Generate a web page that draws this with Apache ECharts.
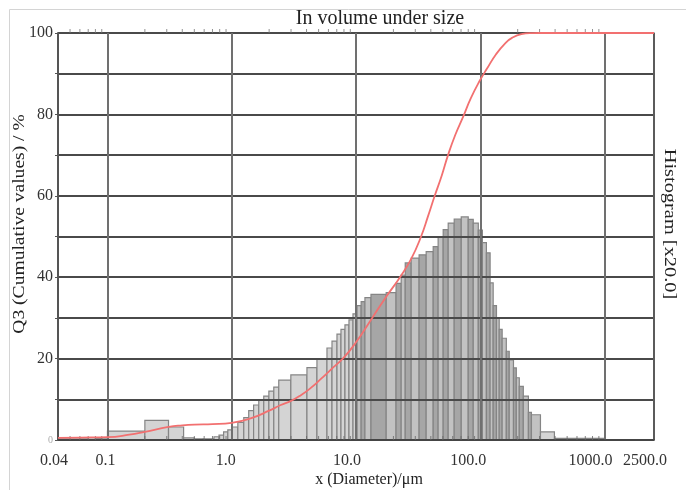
<!DOCTYPE html>
<html><head><meta charset="utf-8">
<script src="https://cdn.jsdelivr.net/npm/echarts@6/dist/echarts.min.js"></script>
<style>html,body{margin:0;padding:0;background:#fff}#c{width:686px;height:490px}</style>
</head><body><div id="c"></div>
<script>
// ---- data ----
const binEdges = [0.04,0.05,0.06,0.07,0.08,0.09,0.1,0.2,0.31,0.41,0.5,0.59,0.72,0.79,0.86,0.93,1.0,1.12,1.25,1.37,1.5,1.65,1.81,1.99,2.18,2.39,2.99,4.03,4.85,5.84,6.41,7.03,7.57,8.15,8.78,9.46,10.2,11.0,11.8,13.2,17.5,21.0,23.1,24.9,27.8,32.2,36.7,41.8,45.8,50.3,55.2,61.7,70.3,80.0,87.8,96.4,104,112,120,127,135,142,150,162,171,185,195,206,222,244,258,305,395,1000];
const histValues = [0.3,0.5,0.3,0.6,0.4,0.3,2.2,4.8,3.2,0.5,0.3,0.3,0.8,1.2,2.0,2.5,3.2,4.3,5.5,7.2,8.6,9.8,10.8,12.0,13.0,14.7,16.0,17.8,20.0,22.6,24.3,26.0,27.2,28.3,29.5,31.0,33.0,34.0,35.0,35.8,36.2,38.5,40.5,43.5,44.7,45.5,46.3,47.5,50.0,51.7,53.3,54.3,54.8,54.2,53.3,51.6,48.5,46.0,38.6,33.0,30.0,27.2,25.0,21.8,19.7,17.7,15.3,13.2,10.8,6.8,6.2,2.0,0.4];
const cumSizes = [0.04,0.06,0.1,0.15,0.2,0.31,0.4,0.5,0.7,1.0,1.42,2.0,2.48,3.0,3.6,4.33,5.22,6.28,8.0,10.0,13.5,17.5,22.6,27.8,33.4,38,43,49,55,63,73,84,100,113,134,160,180,214,260,300,400,1000,2500];
const cumValues = [0.5,0.6,0.7,1.3,2.0,3.2,3.6,3.8,3.9,4.2,5.3,7.2,8.6,9.6,11.0,12.8,15.0,17.3,20.3,24.0,30.0,35.2,40.0,44.5,50.0,55.0,60.0,65.0,70.0,75.0,79.5,84.0,88.5,91.2,94.8,97.6,98.8,99.7,99.97,100,100,100,100];
const xTickLabels = ['0.04','0.1','1.0','10.0','100.0','1000.0','2500.0'];
const yTickLabels = ['0','20','40','60','80','100'];
const minorTickSizes = [0.05,0.06,0.07,0.08,0.09,0.2,0.3,0.4,0.5,0.6,0.7,0.8,0.9,2,3,4,5,6,7,8,9,20,30,40,50,60,70,80,90,200,300,400,500,600,700,800,900];

// ---- build ----
const histData = histValues.map((h, i) => [binEdges[i], binEdges[i + 1], h, i]);
const cumData = cumSizes.map((s, i) => [s, cumValues[i]]);
const topTicks = minorTickSizes.map(s => [s, 100]);
const botTicks = minorTickSizes.map(s => [s, 0]);

const FONT = 'Liberation Serif';
const shifts = [-4, -2, -6, -9, -12, -14, -9];
const rich = {};
shifts.forEach((d, i) => {
  rich['l' + i] = { fontFamily: FONT, fontSize: 16, color: '#333', padding: [0, -2 * d, 0, 0] };
});
rich.z = { fontFamily: FONT, fontSize: 10, color: '#aaa' };

const chart = echarts.init(document.getElementById('c'), null, { renderer: 'canvas' });
chart.setOption({
  animation: false,
  backgroundColor: '#fff',
  grid: { left: 58, right: 32, top: 33, bottom: 50, containLabel: false },
  xAxis: {
    type: 'log', logBase: 10, min: 0.04, max: 2500, splitNumber: 5, z: 3,
    axisLine: { show: true, lineStyle: { color: '#444', width: 1.5 } },
    axisTick: { show: false },
    splitLine: { show: true, lineStyle: { color: '#707070', width: 2 } },
    axisLabel: {
      show: true, margin: 13, showMinLabel: true, showMaxLabel: true, hideOverlap: false,
      fontFamily: FONT, fontSize: 16, color: '#333', rich: rich,
      formatter: v => {
        const i = xTickLabels.findIndex(l => Math.abs(Math.log10(parseFloat(l)) - Math.log10(v)) < 1e-4);
        return i < 0 ? '' : '{l' + i + '|' + xTickLabels[i] + '}';
      }
    }
  },
  yAxis: [{
    type: 'value', min: 0, max: 100, interval: 10, z: 3,
    axisLine: { show: true, lineStyle: { color: '#555', width: 2 } },
    axisTick: { show: true, length: 3, lineStyle: { color: '#555' } },
    splitLine: { show: true, lineStyle: { color: '#4a4a4a', width: 2 } },
    axisLabel: {
      margin: 5, fontFamily: FONT, fontSize: 16, color: '#333', rich: rich,
      formatter: v => {
        const s = String(v);
        if (!yTickLabels.includes(s)) return '';
        return s === '0' ? '{z|0}' : s;
      }
    }
  }, {
    type: 'value', min: 0, max: 100, position: 'right', z: 3,
    axisLine: { show: true, lineStyle: { color: '#555', width: 1.5 } },
    axisTick: { show: false }, axisLabel: { show: false }, splitLine: { show: false }
  }],
  series: [{
    type: 'custom', z: 1, data: histData,
    encode: { x: [0, 1], y: 2 },
    renderItem: (params, api) => {
      const lo = api.value(0);
      const p0 = api.coord([lo, api.value(2)]);
      const p1 = api.coord([api.value(1), 0]);
      const mid = lo >= 10 && lo < 300;
      const dark = mid && (api.value(3) % 2 === 1);
      return {
        type: 'rect',
        shape: { x: p0[0], y: p0[1], width: p1[0] - p0[0], height: p1[1] - p0[1] },
        style: { fill: dark ? '#a6a6a6' : (mid ? '#c2c2c2' : '#d4d4d4'), stroke: '#858585', lineWidth: 1.2 }
      };
    }
  }, {
    type: 'line', z: 6, data: cumData, smooth: 0.5, showSymbol: false,
    lineStyle: { color: '#f27070', width: 1.8 }, silent: true
  }, {
    type: 'scatter', z: 4, data: topTicks, symbol: 'rect', symbolSize: [1, 4], symbolOffset: [0, -2],
    itemStyle: { color: '#777' }, silent: true
  }, {
    type: 'scatter', z: 4, data: botTicks, symbol: 'rect', symbolSize: [1, 4], symbolOffset: [0, -2],
    itemStyle: { color: '#666' }, silent: true
  }],
  graphic: [
    { type: 'rect', silent: true, shape: { x: 9.5, y: 9.5, width: 700, height: 500 }, style: { fill: 'none', stroke: '#d4d4d4', lineWidth: 1 } },
    { type: 'text', silent: true, x: 380, y: 19, style: { text: 'In volume under size', fontFamily: FONT, fontSize: 20, fill: '#222', align: 'center', verticalAlign: 'middle' } },
    { type: 'text', silent: true, x: 369, y: 480, style: { text: 'x (Diameter)/μm', fontFamily: FONT, fontSize: 16, fill: '#222', align: 'center', verticalAlign: 'middle' } },
    { type: 'text', silent: true, x: 20, y: 224, rotation: Math.PI / 2, scaleX: 1.15, style: { text: 'Q3 (Cumulative values) / %', fontFamily: FONT, fontSize: 17, fill: '#222', align: 'center', verticalAlign: 'middle' } },
    { type: 'text', silent: true, x: 669, y: 224, rotation: -Math.PI / 2, scaleX: 1.2, style: { text: 'Histogram [x20.0]', fontFamily: FONT, fontSize: 17, fill: '#222', align: 'center', verticalAlign: 'middle' } }
  ]
});
</script>
</body></html>
